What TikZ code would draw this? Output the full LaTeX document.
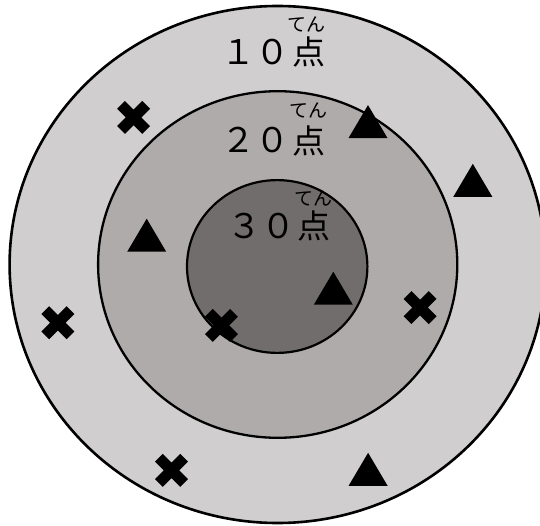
\documentclass[tikz,border=0pt]{standalone}
\usepackage{fontspec}
\newfontfamily\jp{Noto Sans CJK JP}
\definecolor{ringA}{RGB}{208,206,207}
\definecolor{ringB}{RGB}{175,171,170}
\definecolor{ringC}{RGB}{113,109,108}
\begin{document}
\begin{tikzpicture}[x=1pt,y=-1pt,
  num/.style={inner sep=0pt,font=\jp\fontsize{34}{34}\selectfont},
  kanji/.style={inner sep=0pt,font=\jp\fontsize{33}{33}\selectfont},
  ruby/.style={inner sep=0pt,font=\jp\fontsize{19}{19}\selectfont},
  xmark/.pic={\draw[line width=11pt] (-12.6,-12.6)--(12.6,12.6) (-12.6,12.6)--(12.6,-12.6);},
  trimark/.pic={\fill (0,-16.5)--(19.5,16.5)--(-19.5,16.5)--cycle;}]
\useasboundingbox (0,0) rectangle (540,526);
\clip (0,0) rectangle (540,526);
% rings
\draw[line width=2.6pt, fill=ringA] (277.6,264.5) ellipse [x radius=268, y radius=258.5];
\draw[line width=2.3pt, fill=ringB] (277.7,264.5) ellipse [x radius=179.6, y radius=173.3];
\draw[line width=2.2pt, fill=ringC] (277.2,266.5) ellipse [x radius=90.2, y radius=86.4];
% labels
\node[num] (n10) at (255.3,52) {１０};
\node[kanji] (p10) at (308.5,52) {点};
\node[ruby] (r10) at (306.5,24) {てん};
\node[num] (n20) at (255,140.5) {２０};
\node[kanji] (p20) at (308.7,140.5) {点};
\node[ruby] (r20) at (308,110.5) {てん};
\node[num] (n30) at (261,226) {３０};
\node[kanji] (p30) at (314,226) {点};
\node[ruby] (r30) at (313.5,198.5) {てん};
% crosses
\pic at (133.6,117.4) {xmark};
\pic at (57.9,322.7) {xmark};
\pic at (221.4,325.4) {xmark};
\pic at (420.1,307.6) {xmark};
\pic at (171.5,470.3) {xmark};
% triangles
\pic at (368,121.6) {trimark};
\pic at (472.8,180.3) {trimark};
\pic at (146.7,235.2) {trimark};
\pic at (333.3,288.2) {trimark};
\pic at (368.1,469.3) {trimark};
\end{tikzpicture}
\end{document}
